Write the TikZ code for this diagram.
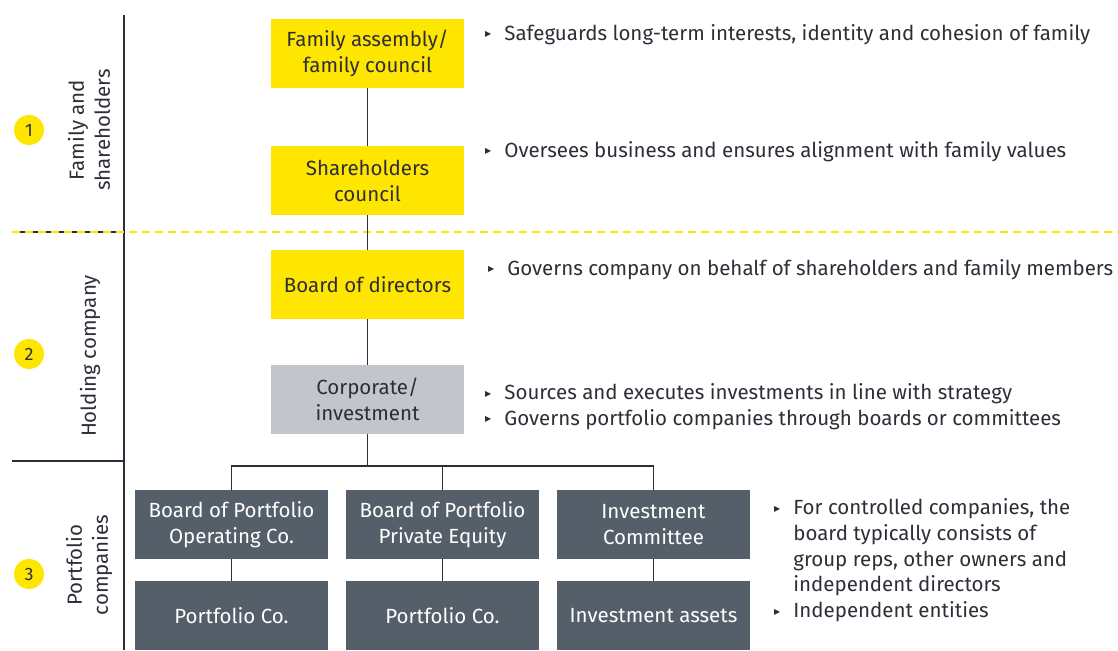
\documentclass[tikz,border=0pt]{standalone}
\usepackage{fontspec}
\setmainfont{Fira Sans}
\newfontfamily\symfont{DejaVu Sans}
\definecolor{eyyellow}{HTML}{FFE600}
\definecolor{eydark}{HTML}{2E2E38}
\definecolor{eygrey}{HTML}{C4C4CD}
\definecolor{eyslate}{HTML}{555F69}
\newcommand{\tri}{\raisebox{0.3ex}{\symfont\fontsize{8}{8}\selectfont ▶}}
\tikzset{
  box/.style={minimum width=193pt, minimum height=69pt, inner sep=0pt,
    align=center, font=\fontsize{20.5}{26}\selectfont},
  ybox/.style={box, fill=eyyellow, text=eydark},
  gbox/.style={box, fill=eygrey, text=eydark},
  dbox/.style={box, fill=eyslate, text=white},
  num/.style={circle, fill=eyyellow, minimum size=30pt, inner sep=0pt,
    text=eydark, font=\fontsize{18}{18}\selectfont},
  side/.style={rotate=90, align=center, text=eydark,
    font=\fontsize{20.5}{26}\selectfont},
  note/.style={anchor=west, inner sep=0pt, text=eydark,
    font=\fontsize{20.5}{25.8}\selectfont},
  link/.style={draw=eydark, line width=1.3pt},
}
\begin{document}
\begin{tikzpicture}[x=1pt, y=-1pt]
  \useasboundingbox (0,0) rectangle (1118,650);
  % frame on the left
  \draw[eydark, line width=1.3pt] (124,15) -- (124,650);
  \draw[eydark, line width=2pt] (12,232) -- (124,232);
  \draw[eydark, line width=2pt] (12,461) -- (124,461);
  \draw[eyyellow, line width=2pt, dash pattern=on 8pt off 5pt] (12,232) -- (1118,232);
  \node[num] (n1) at (29,130) {1};
  \node[num] (n2) at (29,354) {2};
  \node[num] (n3) at (29,574) {3};
  \node[side] (famsh) at (89,130) {Family and\\shareholders};
  \node[side] (hold) at (90,356) {Holding company};
  \node[side] (port) at (89,565) {Portfolio\\companies};
  % boxes
  \node[ybox] (fam) at (367.5,53.5) {Family assembly/\\family council};
  \node[ybox] (shc) at (367.5,180.5) {Shareholders\\council};
  \node[ybox] (bod) at (367.5,284.5) {Board of directors};
  \node[gbox] (corp) at (367.5,399.5) {Corporate/\\investment};
  \node[dbox] (bpo) at (231.5,524.5) {Board of Portfolio\\Operating Co.};
  \node[dbox] (bpe) at (442.5,524.5) {Board of Portfolio\\Private Equity};
  \node[dbox] (bic) at (653.5,524.5) {Investment\\Committee};
  \node[dbox] (pco1) at (231.5,615.5) {Portfolio Co.};
  \node[dbox] (pco2) at (442.5,615.5) {Portfolio Co.};
  \node[dbox] (inv) at (653.5,615.5) {Investment assets};
  \coordinate (fork) at (0,466);
  \draw[link] (fam) -- (shc);
  \draw[link] (shc) -- (bod);
  \draw[link] (bod) -- (corp);
  \draw[link] (corp.south) -- (corp.south |- fork);
  \draw[link] (bpo.north) |- (bic.north |- fork) -- (bic.north);
  \draw[link] (bpe.north) -- (bpe.north |- fork);
  \draw[link] (bpo) -- (pco1);
  \draw[link] (bpe) -- (pco2);
  \draw[link] (bic) -- (inv);
  % notes
  \node[note] (t1) at (485,35) {\begin{tabular}{@{}l@{\hspace{13pt}}l@{}}
    \tri & Safeguards long-term interests, identity and cohesion of family
  \end{tabular}};
  \node[note] (t2) at (485,152) {\begin{tabular}{@{}l@{\hspace{13pt}}l@{}}
    \tri & Oversees business and ensures alignment with family values
  \end{tabular}};
  \node[note] (t3) at (488,270) {\begin{tabular}{@{}l@{\hspace{13pt}}l@{}}
    \tri & Governs company on behalf of shareholders and family members
  \end{tabular}};
  \node[note] (t4) at (485,407) {\begin{tabular}{@{}l@{\hspace{13pt}}l@{}}
    \tri & Sources and executes investments in line with strategy\\
    \tri & Governs portfolio companies through boards or committees
  \end{tabular}};
  \node[note] (t5) at (774,561) {\begin{tabular}{@{}l@{\hspace{13pt}}l@{}}
    \tri & For controlled companies, the\\
         & board typically consists of\\
         & group reps, other owners and\\
         & independent directors\\
    \tri & Independent entities
  \end{tabular}};
\end{tikzpicture}
\end{document}
